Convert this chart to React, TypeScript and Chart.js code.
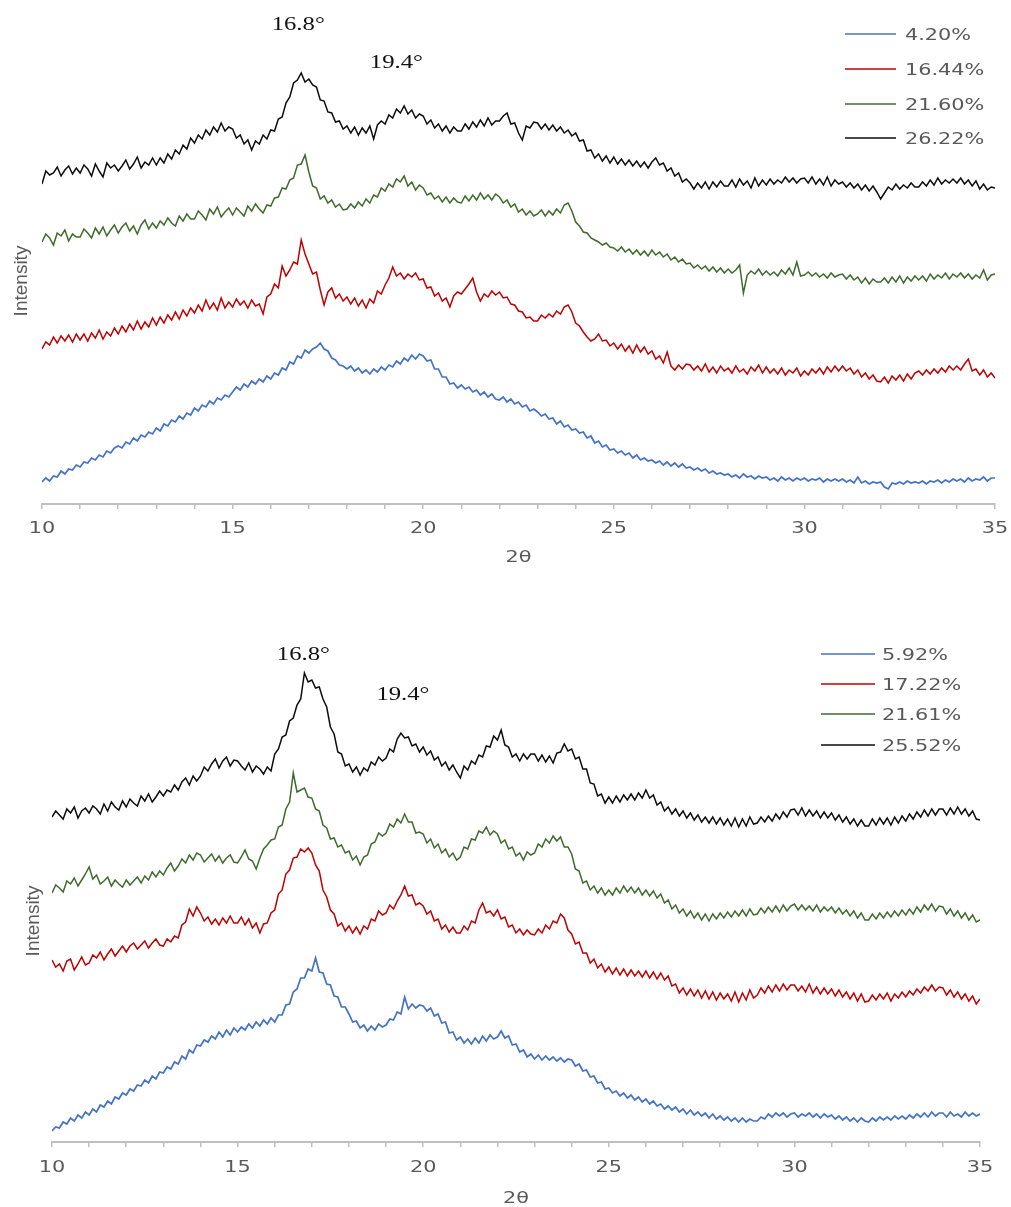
import { useEffect, useRef } from "react";
import { Chart, registerables } from "chart.js";

Chart.register(...registerables);

// Diffractograms sampled every 0.1° from 10° to 35° (2θ); intensity in arbitrary units.
const TWO_THETA_START = 10;
const TWO_THETA_STEP = 0.1;

const xTickLabels = [10, 15, 20, 25, 30, 35];
const peakPositions = [16.8, 19.4];
const X_TITLE = "2θ";
const Y_TITLE = "Intensity";

// ---------- upper panel ----------
const upperLabels = ["4.20%", "16.44%", "21.60%", "26.22%"];

const upper420 = [
  22, 26, 23, 28, 27, 33, 30, 35, 34, 39,
  37, 42, 41, 46, 44, 49, 47, 53, 51, 56,
  58, 56, 62, 60, 66, 63, 69, 67, 72, 70,
  76, 73, 80, 78, 84, 82, 88, 85, 91, 89,
  96, 93, 99, 97, 103, 100, 106, 104, 109, 107,
  112, 117, 114, 120, 117, 123, 120, 125, 122, 128,
  125, 131, 129, 136, 134, 142, 140, 148, 146, 154,
  151, 155, 157, 161, 155, 153, 146, 144, 139, 138,
  135, 138, 133, 136, 131, 134, 130, 135, 132, 137,
  134, 139, 137, 143, 140, 146, 143, 149, 145, 150,
  148, 143, 144, 135, 135, 127, 127, 120, 121, 116,
  119, 115, 117, 112, 114, 109, 112, 107, 110, 105,
  104, 107, 102, 105, 100, 102, 97, 99, 93, 95,
  92, 88, 90, 85, 86, 80, 83, 77, 79, 74,
  75, 71, 72, 66, 68, 61, 63, 57, 59, 54,
  55, 51, 53, 49, 51, 46, 49, 44, 46, 43,
  44, 41, 43, 39, 42, 38, 41, 37, 40, 36,
  37, 34, 36, 33, 35, 31, 33, 30, 31, 29,
  30, 27, 29, 26, 30, 27, 28, 25, 28, 26,
  27, 24, 26, 23, 27, 24, 26, 23, 26, 24,
  26, 23, 25, 24, 26, 22, 25, 23, 25, 23,
  25, 22, 24, 21, 27, 21, 23, 20, 22, 21,
  22, 17, 15, 21, 20, 22, 20, 23, 21, 22,
  21, 23, 20, 23, 22, 24, 21, 24, 22, 25,
  23, 25, 22, 26, 23, 25, 24, 27, 23, 26,
  26,
];

const upper1644 = [
  155, 162, 159, 167, 161, 168, 163, 169, 162, 170,
  164, 170, 163, 171, 166, 174, 165, 172, 168, 176,
  170, 178, 172, 180, 174, 183, 175, 182, 177, 186,
  179, 187, 181, 189, 184, 192, 185, 194, 188, 196,
  191, 199, 193, 204, 195, 201, 194, 206, 196, 202,
  197, 205, 199, 203, 196, 204, 198, 200, 190, 207,
  210, 220, 216, 238, 228, 234, 242, 240, 264, 250,
  240, 230, 232, 214, 199, 212, 216, 206, 210, 203,
  207, 200, 206, 198, 204, 196, 205, 201, 213, 210,
  219, 226, 237, 228, 231, 225, 230, 227, 231, 224,
  225, 216, 217, 208, 211, 203, 206, 197, 208, 212,
  210, 215, 220, 226, 212, 203, 210, 207, 213, 209,
  212, 206, 207, 200, 199, 193, 192, 186, 187, 183,
  183, 189, 186, 190, 187, 193, 190, 197, 199, 192,
  181, 178, 172, 167, 163, 165, 170, 163, 164, 158,
  161, 155, 160, 153, 158, 151, 159, 152, 157, 150,
  153, 145, 148, 141, 152, 138, 134, 139, 135, 140,
  139, 134, 138, 133, 140, 132, 137, 131, 138, 133,
  136, 131, 138, 132, 135, 130, 137, 133, 139, 131,
  137, 131, 135, 130, 136, 129, 134, 131, 136, 128,
  133, 129, 135, 131, 136, 130, 137, 132, 138, 133,
  138, 133, 136, 130, 134, 127, 131, 125, 129, 123,
  122, 127, 121, 128, 124, 129, 123, 130, 125, 131,
  133, 129, 134, 130, 135, 131, 136, 132, 138, 134,
  138, 134, 140, 145, 133, 135, 129, 134, 127, 131,
  126,
];

const upper2160 = [
  262, 270, 266, 259, 271, 268, 274, 263, 270, 267,
  267, 275, 271, 266, 276, 270, 277, 268, 274, 279,
  271, 277, 281, 273, 278, 270, 279, 284, 275, 281,
  276, 283, 279, 286, 281, 278, 288, 283, 290, 285,
  285, 293, 289, 284, 295, 290, 297, 287, 292, 296,
  289, 296, 292, 288, 298, 293, 300, 295, 291, 299,
  298, 306, 307, 316, 315, 324, 326, 339, 340, 349,
  332, 318, 316, 305, 308, 301, 304, 297, 300, 294,
  295, 300, 296, 302, 298, 305, 301, 309, 307, 316,
  313, 320, 317, 325, 322, 328, 318, 322, 314, 319,
  316, 309, 311, 305, 308, 302, 307, 301, 306, 302,
  301, 308, 303, 309, 304, 311, 305, 309, 304, 310,
  307, 301, 304, 297, 300, 292, 295, 289, 293, 288,
  290, 294, 288, 293, 289, 295, 291, 299, 301, 293,
  282, 278, 272, 271, 266, 264, 262, 259, 261, 257,
  256, 253, 257, 252, 255, 250, 254, 249, 253, 248,
  254, 249, 252, 247, 250, 244, 247, 242, 245, 240,
  241, 236, 239, 235, 238, 233, 237, 232, 236, 231,
  235, 231, 234, 239, 211, 229, 233, 230, 235, 229,
  233, 229, 232, 228, 234, 230, 236, 229, 242, 228,
  229, 232, 228, 231, 227, 230, 226, 231, 227, 229,
  230, 225, 229, 224, 227, 221, 226, 220, 225, 222,
  222, 226, 221, 227, 222, 228, 221, 227, 223, 228,
  224, 228, 223, 230, 225, 229, 226, 231, 225, 230,
  227, 231, 226, 230, 225, 229, 226, 234, 224, 229,
  230,
];

const upper2622 = [
  320, 333, 329, 331, 337, 328, 334, 338, 330, 336,
  331, 339, 335, 328, 340, 333, 327, 341, 336, 339,
  333, 338, 344, 335, 340, 347, 336, 342, 339, 346,
  339, 346, 341, 350, 345, 354, 350, 359, 355, 366,
  361, 369, 365, 374, 369, 377, 372, 381, 373, 377,
  375, 366, 369, 360, 364, 354, 363, 360, 369, 365,
  374, 373, 385, 387, 401, 407, 421, 424, 431, 422,
  425, 419, 417, 404, 403, 392, 391, 382, 383, 375,
  378, 371, 377, 369, 376, 371, 378, 365, 379, 383,
  380, 389, 386, 395, 391, 398, 390, 394, 386, 390,
  388, 380, 384, 376, 380, 373, 378, 371, 377, 373,
  373, 380, 375, 382, 377, 384, 378, 386, 379, 383,
  383, 388, 391, 380, 381, 371, 364, 378, 376, 382,
  381, 375, 380, 374, 379, 373, 377, 371, 374, 368,
  371, 363, 364, 353, 354, 346, 350, 343, 348, 341,
  347, 340, 345, 339, 344, 338, 343, 337, 342, 336,
  342, 346, 339, 341, 333, 336, 328, 331, 322, 325,
  321, 315, 321, 316, 322, 315, 322, 317, 323, 318,
  318, 324, 317, 325, 319, 323, 316, 326, 318, 324,
  319, 325, 320, 324, 321, 327, 322, 326, 321, 325,
  326, 321, 327, 320, 325, 319, 327, 318, 324, 320,
  322, 317, 321, 316, 320, 314, 319, 313, 318, 312,
  305, 311, 317, 314, 320, 315, 319, 316, 321, 317,
  317, 322, 318, 324, 319, 326, 320, 324, 321, 325,
  321, 326, 320, 324, 318, 323, 315, 320, 314, 317,
  316,
];

// ---------- lower panel ----------
const lowerLabels = ["5.92%", "17.22%", "21.61%", "25.52%"];

const lower592 = [
  11, 15, 14, 20, 18, 24, 21, 27, 24, 30,
  27, 33, 30, 37, 35, 41, 38, 45, 43, 49,
  47, 53, 51, 57, 56, 62, 59, 66, 63, 70,
  69, 75, 73, 80, 78, 86, 83, 92, 89, 97,
  96, 102, 100, 106, 103, 110, 105, 112, 107, 114,
  110, 115, 112, 118, 114, 120, 116, 122, 118, 124,
  120, 127, 127, 137, 138, 150, 153, 164, 164, 173,
  171, 184, 170, 169, 158, 157, 146, 145, 135, 135,
  128, 120, 121, 114, 117, 111, 116, 112, 118, 115,
  117, 123, 122, 130, 128, 145, 133, 138, 134, 137,
  136, 131, 134, 126, 128, 119, 120, 109, 110, 102,
  105, 99, 103, 98, 104, 99, 106, 101, 107, 103,
  105, 111, 104, 106, 97, 98, 90, 92, 85, 88,
  83, 87, 82, 86, 82, 85, 81, 84, 80, 83,
  82, 76, 78, 71, 72, 65, 66, 59, 60, 53,
  54, 49, 51, 46, 49, 44, 47, 42, 45, 40,
  43, 38, 41, 36, 38, 33, 36, 32, 35, 30,
  33, 28, 32, 27, 30, 26, 29, 24, 28, 23,
  26, 22, 25, 21, 24, 20, 24, 20, 23, 21,
  21, 25, 23, 28, 25, 29, 26, 29, 25, 28,
  29, 25, 28, 26, 29, 25, 28, 24, 28, 25,
  27, 23, 26, 22, 25, 21, 24, 20, 24, 21,
  20, 24, 21, 25, 22, 25, 22, 26, 23, 26,
  23, 27, 24, 28, 25, 29, 25, 30, 26, 29,
  29, 25, 30, 26, 28, 25, 30, 26, 29, 26,
  28,
];

const lower1722 = [
  182, 175, 178, 171, 181, 183, 172, 178, 185, 177,
  179, 187, 184, 190, 182, 188, 193, 186, 191, 196,
  190, 196, 199, 193, 197, 201, 194, 199, 203, 197,
  196, 203, 200, 206, 204, 217, 220, 233, 226, 235,
  229, 221, 225, 218, 223, 217, 224, 219, 226, 219,
  219, 225, 217, 223, 214, 219, 209, 218, 219, 229,
  232, 248, 252, 268, 272, 284, 285, 293, 290, 294,
  289, 277, 271, 252, 245, 232, 228, 216, 219, 211,
  216, 209, 215, 208, 216, 213, 223, 221, 231, 227,
  229, 237, 233, 241, 247, 256, 246, 247, 237, 239,
  236, 228, 231, 221, 223, 213, 217, 210, 215, 209,
  209, 216, 212, 221, 219, 232, 239, 229, 231, 226,
  232, 223, 225, 215, 217, 209, 213, 207, 212, 208,
  207, 213, 209, 217, 213, 221, 219, 228, 224, 212,
  208, 198, 200, 189, 189, 179, 183, 174, 178, 170,
  175, 168, 174, 167, 173, 166, 172, 166, 171, 165,
  171, 164, 170, 163, 169, 162, 166, 156, 158, 149,
  154, 147, 153, 146, 152, 144, 151, 143, 150, 142,
  149, 143, 148, 141, 150, 140, 149, 142, 152, 144,
  147, 154, 149, 156, 150, 157, 151, 158, 152, 157,
  157, 151, 156, 150, 158, 149, 155, 148, 154, 148,
  153, 146, 152, 145, 150, 143, 149, 141, 148, 140,
  141, 147, 142, 148, 143, 149, 141, 148, 144, 150,
  145, 151, 147, 153, 149, 155, 151, 157, 151, 155,
  154, 147, 152, 145, 150, 143, 148, 141, 146, 138,
  143,
];

const lower2161 = [
  249, 257, 254, 250, 261, 258, 264, 256, 262, 268,
  275, 263, 267, 258, 261, 265, 256, 262, 258, 255,
  262, 257, 261, 265, 259, 266, 262, 270, 265, 271,
  267, 274, 279, 271, 276, 283, 279, 287, 282, 289,
  287, 280, 284, 288, 281, 286, 279, 284, 287, 280,
  279, 285, 292, 283, 281, 273, 284, 293, 297, 302,
  303, 315, 317, 333, 340, 369, 350, 352, 354, 345,
  344, 333, 331, 317, 314, 303, 304, 295, 297, 289,
  291, 282, 286, 277, 285, 287, 298, 300, 309, 306,
  309, 318, 315, 323, 319, 328, 320, 320, 309, 310,
  308, 299, 303, 294, 298, 289, 293, 285, 289, 282,
  285, 295, 293, 303, 302, 311, 309, 315, 307, 311,
  308, 299, 302, 293, 295, 286, 289, 282, 290, 287,
  289, 298, 295, 303, 299, 306, 301, 305, 295, 295,
  288, 273, 271, 259, 261, 252, 256, 249, 254, 247,
  252, 247, 254, 249, 256, 250, 255, 249, 254, 247,
  252, 246, 251, 244, 248, 239, 242, 233, 237, 229,
  233, 226, 231, 224, 229, 222, 228, 221, 228, 223,
  229, 224, 230, 225, 231, 226, 232, 226, 233, 227,
  228, 234, 229, 235, 230, 236, 230, 237, 231, 236,
  238, 232, 237, 232, 236, 231, 237, 230, 235, 231,
  235, 229, 234, 228, 232, 226, 231, 224, 229, 222,
  222, 228, 223, 229, 224, 230, 225, 231, 226, 232,
  227, 233, 228, 235, 230, 237, 232, 238, 231, 236,
  235, 228, 233, 226, 231, 224, 229, 222, 227, 220,
  222,
];

const lower2552 = [
  325, 331, 327, 323, 333, 329, 335, 324, 331, 334,
  329, 336, 333, 328, 338, 331, 340, 335, 332, 341,
  335, 343, 339, 336, 346, 341, 348, 340, 345, 351,
  346, 352, 350, 357, 352, 360, 364, 357, 366, 361,
  366, 375, 371, 378, 383, 374, 381, 385, 376, 382,
  381, 376, 372, 379, 370, 376, 373, 368, 375, 371,
  388, 393, 405, 407, 421, 424, 437, 443, 469, 460,
  462, 454, 455, 443, 435, 415, 408, 390, 388, 376,
  378, 370, 375, 367, 374, 371, 380, 377, 385, 381,
  384, 393, 390, 403, 409, 404, 405, 396, 398, 390,
  395, 387, 391, 382, 385, 376, 380, 372, 377, 370,
  364, 376, 372, 381, 378, 387, 385, 396, 395, 406,
  402, 412, 397, 395, 385, 388, 381, 388, 383, 388,
  388, 381, 387, 380, 386, 379, 389, 390, 398, 391,
  393, 383, 385, 373, 373, 359, 358, 346, 348, 339,
  345, 339, 346, 340, 347, 342, 348, 342, 349, 344,
  352, 344, 347, 337, 340, 331, 335, 328, 333, 326,
  331, 324, 329, 322, 327, 320, 325, 319, 325, 318,
  324, 317, 323, 316, 324, 315, 323, 316, 325, 318,
  319, 325, 320, 326, 321, 328, 323, 330, 325, 332,
  333, 327, 334, 326, 332, 326, 331, 324, 330, 324,
  329, 322, 327, 320, 325, 318, 323, 316, 322, 316,
  316, 323, 317, 324, 318, 324, 317, 325, 319, 326,
  321, 328, 323, 330, 325, 332, 326, 333, 327, 333,
  333, 327, 334, 328, 335, 328, 333, 326, 331, 323,
  322,
];

// ---------- styling ----------
const SERIES_COLORS = ["#4472C4", "#C00000", "#3E6B2C", "#0D0D0D"];
const AXIS_COLOR = "#BFBFBF";
const AXIS_TEXT = "#595959";
const TEXT_STRETCH = 1.3;

type PanelLayout = {
  height: number;
  padLeft: number;
  padRight: number;
  padTop: number;
  axisBandHeight: number;
  yMax: number;
  tickBaseline: number;
  titleBaseline: number;
  yTitleX: number;
  yTitleY: number;
  peakDx: number[];
  peakBaseline: number[];
  legendLineX: number;
  legendLineLen: number;
  legendTextX: number;
  legendRowY: number[];
};

type Panel = {
  labels: string[];
  series: number[][];
  layout: PanelLayout;
};

const upperPanel: Panel = {
  labels: upperLabels,
  series: [upper420, upper1644, upper2160, upper2622],
  layout: {
    height: 580,
    padLeft: 42,
    padRight: 16,
    padTop: 10,
    axisBandHeight: 76,
    yMax: 494,
    tickBaseline: 533,
    titleBaseline: 562,
    yTitleX: 22,
    yTitleY: 281,
    peakDx: [-3, -4],
    peakBaseline: [30, 68],
    legendLineX: 845,
    legendLineLen: 51,
    legendTextX: 905,
    legendRowY: [34, 69, 104, 138],
  },
};

const lowerPanel: Panel = {
  labels: lowerLabels,
  series: [lower592, lower1722, lower2161, lower2552],
  layout: {
    height: 607,
    padLeft: 52,
    padRight: 31,
    padTop: 10,
    axisBandHeight: 65,
    yMax: 532,
    tickBaseline: 572,
    titleBaseline: 603,
    yTitleX: 34,
    yTitleY: 321,
    peakDx: [-1, 2],
    peakBaseline: [60, 100],
    legendLineX: 821,
    legendLineLen: 54,
    legendTextX: 882,
    legendRowY: [54, 84, 114, 145],
  },
};

function toPoints(values: number[]) {
  return values.map((y, i) => ({
    x: +(TWO_THETA_START + i * TWO_THETA_STEP).toFixed(1),
    y,
  }));
}

function stretchedText(
  ctx: CanvasRenderingContext2D,
  text: string,
  x: number,
  y: number,
  align: CanvasTextAlign
) {
  ctx.save();
  ctx.translate(x, y);
  ctx.scale(TEXT_STRETCH, 1);
  ctx.textAlign = align;
  ctx.fillText(text, 0, 0);
  ctx.restore();
}

function panelTextPlugin(layout: PanelLayout) {
  return {
    id: "panelText",
    afterDraw(chart: Chart) {
      const ctx = chart.ctx;
      const xs = chart.scales.x;
      const area = chart.chartArea;
      ctx.save();
      ctx.textBaseline = "alphabetic";

      // x tick labels and axis title
      ctx.fillStyle = AXIS_TEXT;
      ctx.font = '16px "DejaVu Sans"';
      xTickLabels.forEach((v) => {
        stretchedText(ctx, String(v), xs.getPixelForValue(v), layout.tickBaseline, "center");
      });
      stretchedText(ctx, X_TITLE, (area.left + area.right) / 2, layout.titleBaseline, "center");

      // rotated y title
      ctx.save();
      ctx.translate(layout.yTitleX, layout.yTitleY);
      ctx.rotate(-Math.PI / 2);
      ctx.font = '19px "Liberation Sans"';
      ctx.textAlign = "center";
      ctx.textBaseline = "middle";
      ctx.fillText(Y_TITLE, 0, 0);
      ctx.restore();

      // peak annotations
      ctx.fillStyle = "#111111";
      ctx.font = '19px "Liberation Serif"';
      peakPositions.forEach((v, i) => {
        stretchedText(
          ctx,
          `${v.toFixed(1)}°`,
          xs.getPixelForValue(v) + layout.peakDx[i],
          layout.peakBaseline[i],
          "center"
        );
      });

      // legend
      ctx.font = '16px "DejaVu Sans"';
      chart.data.datasets.forEach((ds, i) => {
        const rowY = layout.legendRowY[i];
        ctx.strokeStyle = ds.borderColor as string;
        ctx.lineWidth = 1.4;
        ctx.beginPath();
        ctx.moveTo(layout.legendLineX, rowY);
        ctx.lineTo(layout.legendLineX + layout.legendLineLen, rowY);
        ctx.stroke();
        ctx.fillStyle = AXIS_TEXT;
        stretchedText(ctx, ds.label ?? "", layout.legendTextX, rowY + 6, "left");
      });
      ctx.restore();
    },
  };
}

function buildConfig(panel: Panel) {
  const L = panel.layout;
  return {
    type: "line" as const,
    data: {
      datasets: panel.series.map((values, i) => ({
        label: panel.labels[i],
        data: toPoints(values),
        borderColor: SERIES_COLORS[i],
        borderWidth: i === 0 ? 1.7 : 1.5,
        pointRadius: 0,
        tension: 0,
        fill: false,
      })),
    },
    options: {
      responsive: false,
      animation: false as const,
      events: [],
      layout: {
        padding: { left: L.padLeft, right: L.padRight, top: L.padTop, bottom: 0 },
      },
      plugins: {
        legend: { display: false },
        tooltip: { enabled: false },
        title: { display: false },
      },
      scales: {
        x: {
          type: "linear" as const,
          min: 10,
          max: 35,
          afterFit: (scale: any) => {
            scale.height = L.axisBandHeight;
          },
          ticks: { stepSize: 1, autoSkip: false, display: false },
          grid: {
            display: true,
            drawOnChartArea: false,
            drawTicks: true,
            tickLength: 5,
            color: AXIS_COLOR,
            lineWidth: 1.5,
          },
          border: { display: true, color: AXIS_COLOR, width: 2 },
          title: { display: false },
        },
        y: {
          display: false,
          min: 0,
          max: L.yMax,
        },
      },
    },
    plugins: [panelTextPlugin(L)],
  };
}

function PanelChart({ panel, top }: { panel: Panel; top: number }) {
  const ref = useRef<HTMLCanvasElement>(null);
  useEffect(() => {
    if (!ref.current) return;
    const chart = new Chart(ref.current, buildConfig(panel) as any);
    return () => chart.destroy();
  }, [panel]);
  return (
    <canvas
      ref={ref}
      width={1011}
      height={panel.layout.height}
      style={{ position: "absolute", left: 0, top, width: 1011, height: panel.layout.height }}
    />
  );
}

export default function App() {
  return (
    <div
      style={{
        position: "absolute",
        left: 0,
        top: 0,
        width: 1011,
        height: 1207,
        background: "#ffffff",
        overflow: "hidden",
      }}
    >
      <PanelChart panel={upperPanel} top={0} />
      <PanelChart panel={lowerPanel} top={600} />
    </div>
  );
}
